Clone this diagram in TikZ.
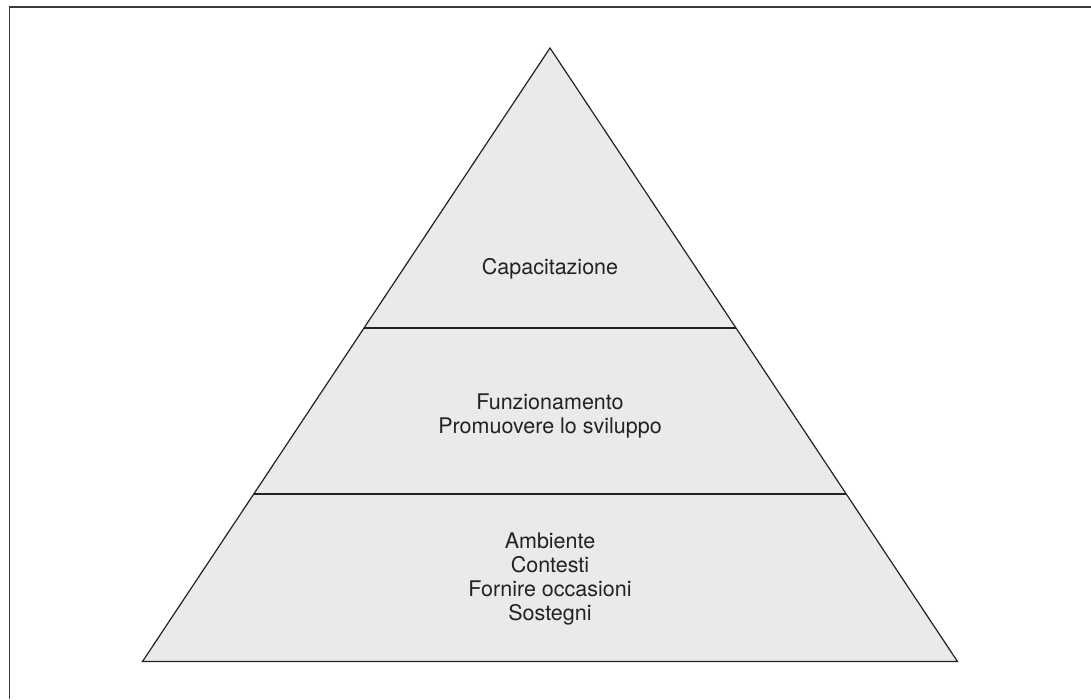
\documentclass[tikz,border=0pt]{standalone}
\usepackage{fontspec}
\setmainfont{TeX Gyre Heros}
\usetikzlibrary{calc}

\definecolor{layergray}{HTML}{EAEAEA}
\definecolor{inkgray}{HTML}{222222}

\begin{document}
\begin{tikzpicture}[x=1pt,y=-1pt,
	layertext/.style={align=center, anchor=base, text=inkgray, font=\fontsize{21.5}{24}\selectfont}]
\useasboundingbox (0,0) rectangle (1091,699);
% frame, only top and left show
\coordinate (fl) at (9.5,699);
\coordinate (ftl) at (9.5,7);
\coordinate (fr) at (1091,7);
\draw [line width=1.5pt, color=inkgray!90] (fl) -- (ftl) -- (fr);
% pyramid
\coordinate (apex) at (550,48);
\coordinate (bl) at (142.5,661.5);
\coordinate (br) at (957.5,661.5);
\coordinate (m1l) at ($(apex)!0.4563!(bl)$);
\coordinate (m1r) at ($(apex)!0.4563!(br)$);
\coordinate (m2l) at ($(apex)!0.7268!(bl)$);
\coordinate (m2r) at ($(apex)!0.7268!(br)$);
\filldraw [fill=layergray, draw=inkgray, line width=1.2pt, line join=miter] (apex) -- (br) -- (bl) -- cycle;
\draw [inkgray, line width=1.2pt] (m1l) -- (m1r);
\draw [inkgray, line width=1.2pt] (m2l) -- (m2r);
% labels (base = last line)
\node [layertext] (cap) at (550,274.3) {Capacitazione};
\node [layertext] (fun) at (550,433.3) {Funzionamento\\Promuovere lo sviluppo};
\node [layertext] (amb) at (550,620.7) {Ambiente\\Contesti\\Fornire occasioni\\Sostegni};
\end{tikzpicture}
\end{document}
